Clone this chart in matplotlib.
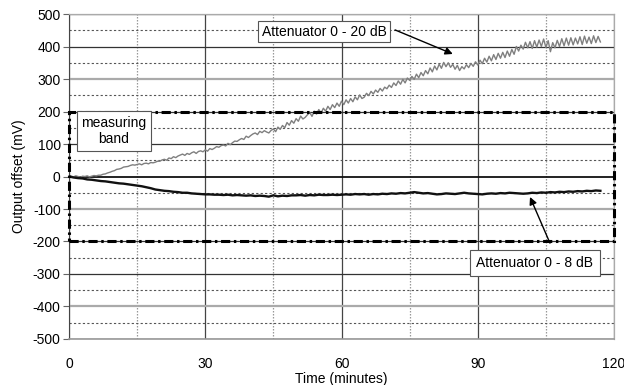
import matplotlib.pyplot as plt
import numpy as np
from matplotlib.patches import Rectangle

plt.rcParams['font.family'] = ['Liberation Sans', 'DejaVu Sans']
plt.rcParams['axes.unicode_minus'] = False

# attenuator 0 - 20 dB, sampled every half minute
t_20db = np.arange(0, 117.5, 0.5)
att_20db = [
    0, 1, -1, 2, 0, -2, 1, 0, 2, -1,
    1, 3, 2, 4, 4, 7, 8, 11, 13, 16,
    18, 22, 23, 25, 29, 30, 31, 34, 36, 35,
    37, 39, 36, 40, 41, 39, 43, 42, 44, 47,
    47, 51, 53, 50, 57, 55, 61, 58, 63, 66,
    69, 65, 71, 68, 73, 76, 71, 77, 79, 76,
    82, 78, 86, 83, 87, 92, 90, 95, 97, 94,
    102, 98, 104, 109, 108, 113, 117, 114, 124, 120,
    126, 131, 134, 129, 139, 135, 141, 137, 134, 142,
    146, 138, 152, 145, 157, 150, 166, 158, 172, 164,
    178, 170, 186, 177, 182, 190, 197, 185, 201, 192,
    206, 195, 210, 201, 216, 206, 221, 212, 226, 216,
    232, 221, 236, 226, 240, 230, 245, 236, 251, 240,
    244, 256, 249, 262, 254, 266, 259, 271, 263, 275,
    270, 281, 274, 288, 280, 294, 284, 299, 288, 303,
    296, 308, 299, 315, 304, 320, 310, 326, 316, 334,
    322, 340, 328, 346, 333, 351, 338, 350, 336, 345,
    330, 342, 326, 338, 331, 344, 335, 348, 339, 353,
    343, 358, 347, 364, 352, 370, 356, 375, 360, 379,
    364, 382, 366, 386, 370, 391, 376, 400, 386, 404,
    392, 413, 396, 415, 394, 418, 398, 420, 400, 423,
    397, 418, 384, 412, 396, 419, 400, 424, 402, 426,
    404, 427, 405, 426, 408, 430, 406, 432, 410, 429,
    409, 433, 412, 431, 414,
]

# attenuator 0 - 8 dB, sampled every minute
t_8db = np.arange(0, 118)
att_8db = [
    0, -3, -5, -6, -9, -10, -12, -14, -15, -17,
    -19, -21, -22, -24, -26, -28, -30, -33, -36, -40,
    -42, -44, -45, -47, -48, -50, -50, -52, -53, -54,
    -55, -55, -56, -56, -57, -56, -58, -57, -58, -59,
    -58, -60, -59, -60, -62, -58, -61, -59, -60, -58,
    -58, -57, -59, -57, -58, -56, -57, -57, -56, -57,
    -56, -55, -56, -54, -55, -54, -56, -54, -55, -53,
    -54, -52, -53, -51, -52, -50, -48, -50, -52, -51,
    -53, -55, -54, -52, -53, -54, -52, -50, -52, -53,
    -54, -55, -53, -52, -53, -51, -52, -50, -51, -52,
    -53, -52, -50, -51, -49, -50, -48, -49, -47, -48,
    -46, -47, -45, -46, -44, -45, -43, -44,
]

band_low, band_high = -200, 200
x_ticks = [0, 30, 60, 90, 120]
y_ticks = list(range(-500, 501, 100))

fig = plt.figure(figsize=(6.24, 3.85), dpi=100)
ax = fig.add_axes([0.1106, 0.1195, 0.8734, 0.8441])

ax.set_xlim(0, 120)
ax.set_ylim(-500, 500)
ax.set_xticks(x_ticks)
ax.set_yticks(y_ticks)
ax.set_xticks(range(15, 120, 30), minor=True)
ax.set_yticks(range(-450, 500, 100), minor=True)

ax.grid(which='major', axis='x', color='#444444', lw=0.9)
ax.grid(which='minor', axis='x', color='#999999', lw=0.9, ls=(0, (1.2, 1.2)))
ax.grid(which='major', axis='y', color='#333333', lw=0.9)
ax.grid(which='minor', axis='y', color='#555555', lw=0.8, ls=(0, (2, 2)))
# some major gridlines are drawn lighter and thicker in the original
for val, gl in zip(y_ticks, ax.yaxis.get_gridlines()):
    if val in (300, -100, -400):
        gl.set_color('#aaaaaa')
        gl.set_linewidth(1.6)
    if val == 0:
        gl.set_linewidth(1.3)
        gl.set_color('#111111')
ax.set_axisbelow(True)

ax.tick_params(axis='x', which='both', length=0, pad=13, labelsize=10)
ax.tick_params(axis='y', which='major', length=4, width=0.8, color='#666666', labelsize=10, pad=2)
ax.tick_params(axis='y', which='minor', length=0)

for s in ['top', 'right']:
    ax.spines[s].set_color('#aaaaaa')
    ax.spines[s].set_linewidth(0.9)
ax.spines['left'].set_color('#444444')
ax.spines['bottom'].set_color('#999999')
ax.spines['bottom'].set_linewidth(1.2)

ax.plot(t_20db, att_20db, color='#7f7f7f', lw=1.0, zorder=3)
ax.plot(t_8db, att_8db, color='#111111', lw=1.7, zorder=3)

band = Rectangle((0, band_low), 120, band_high - band_low, fill=False,
                 ec='black', lw=2.2, ls=(0, (3, 1.2, 0.8, 1.2)), clip_on=False, zorder=4)
ax.add_patch(band)

arrow = dict(arrowstyle='-|>', color='black', lw=1.0, mutation_scale=11,
             shrinkA=0, shrinkB=0)
box = dict(boxstyle='square,pad=0.25', fc='white', ec='#555555', lw=0.8)
ax.text(56.2, 446, 'Attenuator 0 - 20 dB', ha='center', va='center',
        fontsize=10, bbox=box, zorder=6)
ax.annotate('', xy=(84.5, 377), xytext=(71.8, 451), arrowprops=arrow, zorder=5)

box8 = dict(boxstyle='square,pad=0.45', fc='white', ec='#555555', lw=0.8)
ax.text(102.6, -266, 'Attenuator 0 - 8 dB', ha='center', va='center',
        fontsize=10, bbox=box8, zorder=6)
ax.annotate('', xy=(101.5, -63), xytext=(105.9, -205), arrowprops=arrow, zorder=5)

ax.text(9.9, 140, 'measuring\nband', ha='center', va='center', fontsize=10,
        linespacing=1.25, zorder=6,
        bbox=dict(boxstyle='square,pad=0.35', fc='white', ec='#555555', lw=0.8))

ax.set_xlabel('Time (minutes)', fontsize=10, labelpad=1)
ax.set_ylabel('Output offset (mV)', fontsize=10, labelpad=5)

fig.savefig('out.png', dpi=100)
